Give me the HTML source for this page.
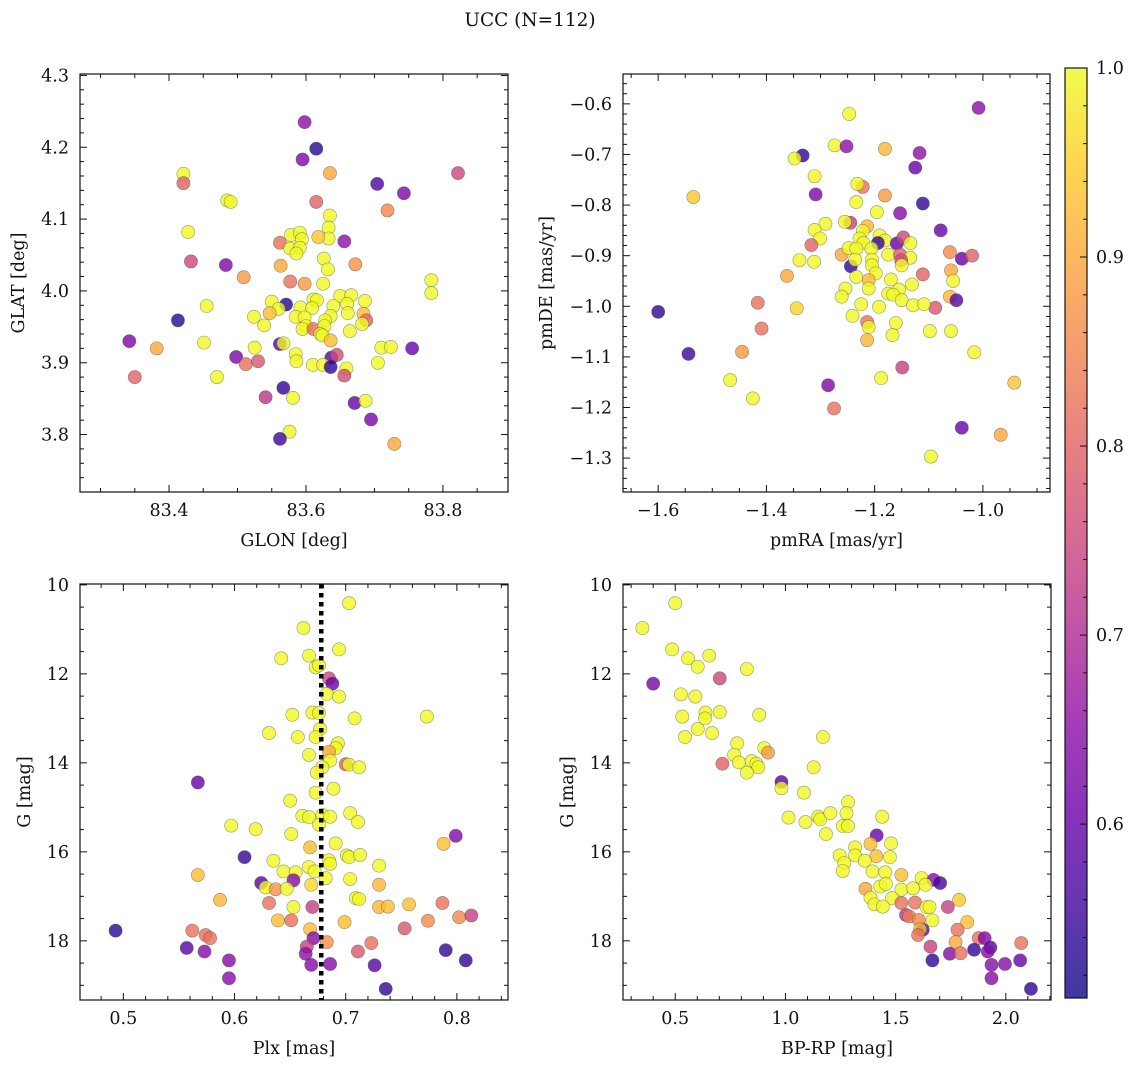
<!DOCTYPE html>
<html><head><meta charset="utf-8"><style>
html,body{margin:0;padding:0;background:#fff;}
svg text{font-family:"DejaVu Serif","Liberation Serif",serif;fill:#111;}
</style></head><body>
<svg id="fig" width="1136" height="1067" viewBox="0 0 1136 1067" xmlns="http://www.w3.org/2000/svg">
<text x="530" y="26" font-size="18.5" text-anchor="middle">UCC (N=112)</text>
</svg>
<script>
// ---------- data ----------
const glon=[83.598,83.615,83.595,83.635,83.421,83.421,83.704,83.743,83.822,83.485,83.490,83.615,83.719,83.635,83.428,83.633,83.633,83.618,83.656,83.562,83.578,83.591,83.594,83.577,83.591,83.586,83.626,83.632,83.432,83.483,83.563,83.672,83.509,83.577,83.598,83.625,83.783,83.783,83.650,83.666,83.686,83.611,83.616,83.550,83.571,83.455,83.560,83.547,83.592,83.609,83.640,83.660,83.661,83.524,83.585,83.598,83.636,83.628,83.684,83.688,83.682,83.413,83.539,83.600,83.595,83.611,83.627,83.664,83.621,83.624,83.636,83.342,83.451,83.562,83.567,83.382,83.525,83.710,83.724,83.755,83.585,83.498,83.637,83.645,83.586,83.512,83.530,83.610,83.625,83.636,83.705,83.659,83.656,83.350,83.470,83.567,83.541,83.581,83.671,83.687,83.695,83.576,83.562,83.729];
const glat=[4.235,4.198,4.183,4.164,4.163,4.150,4.149,4.136,4.164,4.126,4.124,4.124,4.112,4.105,4.082,4.088,4.073,4.075,4.069,4.067,4.078,4.081,4.072,4.059,4.060,4.052,4.045,4.030,4.041,4.036,4.035,4.037,4.019,4.013,4.010,4.010,4.015,3.997,3.993,3.994,3.986,3.988,3.987,3.985,3.981,3.979,3.975,3.969,3.977,3.976,3.979,3.982,3.969,3.964,3.964,3.963,3.965,3.959,3.968,3.959,3.954,3.959,3.952,3.951,3.947,3.947,3.951,3.944,3.940,3.938,3.931,3.930,3.928,3.926,3.927,3.920,3.921,3.921,3.922,3.920,3.912,3.908,3.907,3.911,3.902,3.898,3.902,3.897,3.897,3.894,3.900,3.892,3.882,3.880,3.880,3.865,3.852,3.851,3.844,3.847,3.821,3.804,3.794,3.787];
const probTL=[.65,.53,.63,.9,1,.8,.57,.63,.75,1,1,.8,.85,1,1,1,1,.94,.65,.82,1,1,1,1,1,1,1,1,.75,.63,.9,.87,.88,.82,.88,1,1,1,1,1,1,1,1,1,.53,1,1,.93,1,1,1,1,1,1,1,1,1,1,.93,.8,1,.53,1,1,1,.82,1,1,1,1,.93,.63,1,.57,1,.9,1,1,1,.6,1,.63,.58,.76,1,.82,.78,1,1,.54,1,1,.76,.8,1,.54,.72,1,.6,1,.62,1,.55,.9];

const pmra=[-1.247,-1.008,-1.274,-1.252,-1.333,-1.348,-1.181,-1.117,-1.125,-1.311,-1.535,-1.309,-1.222,-1.232,-1.181,-1.111,-1.234,-1.196,-1.153,-1.078,-1.245,-1.255,-1.291,-1.311,-1.301,-1.214,-1.222,-1.317,-1.228,-1.221,-1.191,-1.181,-1.194,-1.159,-1.147,-1.134,-1.261,-1.248,-1.234,-1.206,-1.175,-1.153,-1.134,-1.061,-1.039,-1.020,-1.339,-1.312,-1.244,-1.236,-1.205,-1.205,-1.151,-1.150,-1.198,-1.111,-1.362,-1.234,-1.059,-1.211,-1.170,-1.055,-1.131,-1.254,-1.211,-1.155,-1.175,-1.166,-1.261,-1.061,-1.049,-1.150,-1.416,-1.088,-1.344,-1.225,-1.192,-1.129,-1.109,-1.600,-1.241,-1.214,-1.211,-1.161,-1.409,-1.098,-1.059,-1.167,-1.214,-1.544,-1.445,-1.016,-1.149,-1.467,-1.188,-1.286,-0.942,-1.425,-1.275,-1.039,-0.967,-1.096];
const pmde=[-0.620,-0.608,-0.682,-0.684,-0.702,-0.708,-0.689,-0.697,-0.726,-0.743,-0.784,-0.779,-0.764,-0.758,-0.781,-0.797,-0.794,-0.814,-0.816,-0.850,-0.835,-0.833,-0.837,-0.849,-0.866,-0.842,-0.851,-0.879,-0.866,-0.875,-0.860,-0.870,-0.875,-0.876,-0.864,-0.875,-0.898,-0.885,-0.886,-0.886,-0.898,-0.898,-0.904,-0.893,-0.906,-0.900,-0.909,-0.912,-0.921,-0.908,-0.908,-0.919,-0.909,-0.919,-0.935,-0.937,-0.940,-0.942,-0.929,-0.948,-0.947,-0.950,-0.957,-0.965,-0.965,-0.967,-0.975,-0.977,-0.981,-0.981,-0.988,-0.988,-0.993,-1.003,-1.004,-0.996,-1.001,-0.998,-0.996,-1.011,-1.019,-1.031,-1.041,-1.033,-1.044,-1.049,-1.049,-1.057,-1.067,-1.094,-1.090,-1.091,-1.121,-1.146,-1.142,-1.156,-1.151,-1.182,-1.202,-1.240,-1.254,-1.297];
const probTR=[1,.65,1,.65,.54,1,.92,.65,.6,1,.94,.63,.82,1,.88,.54,1,1,.64,.6,.74,1,1,1,1,.92,1,.8,1,1,1,1,.55,.6,.75,1,.9,1,1,1,1,.8,1,.86,.6,.8,1,1,.54,1,1,1,.76,1,1,.8,.9,1,.9,.92,1,1,1,1,1,1,1,1,1,.92,.58,1,.82,.78,.96,1,1,1,1,.54,1,.82,1,1,.82,1,1,1,.92,.55,.88,1,.74,1,1,.63,.94,1,.82,.6,.9,1];

const plx=[0.703,0.662,0.694,0.667,0.642,0.673,0.676,0.685,0.688,0.683,0.694,0.652,0.670,0.676,0.708,0.773,0.677,0.631,0.657,0.673,0.693,0.691,0.685,0.667,0.686,0.700,0.703,0.712,0.679,0.674,0.567,0.689,0.673,0.650,0.661,0.667,0.679,0.686,0.704,0.711,0.676,0.597,0.619,0.651,0.799,0.788,0.691,0.668,0.609,0.701,0.703,0.713,0.685,0.686,0.635,0.667,0.730,0.644,0.655,0.672,0.567,0.682,0.704,0.653,0.624,0.628,0.637,0.647,0.669,0.730,0.587,0.709,0.712,0.631,0.757,0.787,0.653,0.670,0.730,0.738,0.639,0.651,0.699,0.774,0.802,0.813,0.753,0.668,0.493,0.562,0.574,0.578,0.671,0.683,0.723,0.665,0.664,0.557,0.573,0.790,0.711,0.595,0.808,0.669,0.686,0.726,0.595,0.736];
const gBL=[10.41,10.97,11.45,11.59,11.65,11.85,11.81,12.10,12.22,12.45,12.51,12.92,12.87,12.88,13.00,12.96,13.24,13.33,13.42,13.42,13.56,13.67,13.75,13.82,13.95,14.03,14.04,14.10,14.10,14.22,14.44,14.58,14.67,14.85,15.19,15.22,15.17,15.21,15.13,15.33,15.39,15.41,15.49,15.60,15.64,15.82,15.81,15.90,16.12,16.08,16.12,16.07,16.19,16.27,16.20,16.34,16.31,16.44,16.46,16.44,16.52,16.59,16.61,16.64,16.70,16.80,16.84,16.83,16.74,16.74,17.08,17.04,17.06,17.15,17.18,17.15,17.24,17.24,17.24,17.23,17.54,17.54,17.58,17.55,17.47,17.43,17.72,17.74,17.77,17.77,17.87,17.94,17.94,18.03,18.05,18.13,18.29,18.16,18.24,18.21,18.24,18.44,18.44,18.54,18.52,18.55,18.84,19.08];
const probBL=[1,1,1,1,1,1,1,.75,.6,1,1,1,1,1,1,1,1,1,1,1,1,1,.9,1,1,.8,1,1,1,1,.6,1,1,1,1,1,1,1,1,1,1,1,1,1,.63,.93,1,.93,.54,1,1,1,1,1,1,1,1,1,1,1,.93,1,1,.64,.58,1,.87,1,.96,.92,.92,1,1,.82,.93,.82,1,.74,.92,.93,.93,.82,.93,.86,.86,.74,.78,.93,.53,.82,.82,.82,.64,.87,.82,.74,.65,.58,.64,.54,.78,.64,.54,.64,.64,.58,.64,.54];
const plxMean=[0.678];

const bprp=[0.351,0.500,0.486,0.558,0.654,0.602,0.825,0.702,0.400,0.526,0.591,0.532,0.637,0.635,0.702,0.881,0.602,0.544,0.667,1.170,0.781,0.767,0.904,0.921,0.789,0.847,0.868,0.877,0.714,0.825,1.128,0.982,0.982,1.084,1.284,1.277,1.439,1.149,1.158,1.204,1.014,1.091,1.260,1.284,1.184,1.414,1.386,1.479,1.316,1.246,1.316,1.412,1.474,1.360,1.267,1.395,1.260,1.453,1.526,1.618,1.672,1.702,1.635,1.430,1.456,1.363,1.526,1.579,1.386,1.484,1.788,1.404,1.442,1.526,1.588,1.640,1.654,1.737,1.547,1.561,1.605,1.667,1.825,1.623,1.611,1.602,1.781,1.772,1.877,1.904,1.930,1.918,1.658,1.856,1.746,1.795,2.070,1.667,1.935,1.996,2.065,1.935,2.114];
const gBR=[10.97,10.41,11.45,11.65,11.59,11.84,11.89,12.10,12.22,12.46,12.51,12.96,12.87,13.00,12.86,12.92,13.24,13.42,13.33,13.42,13.56,13.82,13.67,13.77,13.99,13.96,14.02,14.10,14.02,14.22,14.10,14.43,14.57,14.67,14.88,15.13,15.21,15.21,15.27,15.13,15.23,15.33,15.42,15.42,15.60,15.63,15.82,15.81,15.90,16.08,16.08,16.10,16.12,16.20,16.25,16.44,16.43,16.46,16.52,16.59,16.63,16.70,16.74,16.78,16.72,16.83,16.85,16.82,17.03,17.04,17.08,17.18,17.23,17.15,17.14,17.24,17.24,17.24,17.42,17.45,17.53,17.54,17.58,17.75,17.74,17.87,17.75,18.03,17.94,17.94,18.15,18.24,18.13,18.20,18.29,18.28,18.05,18.44,18.54,18.52,18.44,18.84,19.08];
const probBR=[1,1,1,1,1,1,1,.75,.62,1,1,1,1,1,1,1,1,1,1,1,1,1,1,.88,1,1,1,1,.8,1,1,.58,1,1,1,1,1,1,1,1,1,1,1,1,1,.6,.93,1,1,1,1,.93,1,1,1,1,1,1,.93,1,.64,.56,1,1,1,.9,1,1,1,1,.94,1,1,.82,.82,1,1,.74,.72,.84,.86,1,.93,.58,.93,.82,.82,.9,.82,.64,.58,.64,.74,.54,.64,.82,.82,.54,.64,.64,.6,.64,.54];

const tlXTicks=["83.4","83.6","83.8"], tlYTicks=["3.8","3.9","4.0","4.1","4.2","4.3"];
const trXTicks=["−1.6","−1.4","−1.2","−1.0"], trYTicks=["−1.3","−1.2","−1.1","−1.0","−0.9","−0.8","−0.7","−0.6"];
const blXTicks=["0.5","0.6","0.7","0.8"], blYTicks=["10","12","14","16","18"];
const brXTicks=["0.5","1.0","1.5","2.0"], brYTicks=["10","12","14","16","18"];
const cbTicks=["0.6","0.7","0.8","0.9","1.0"];
const cbMin=0.508, cbMax=1.0;

// ---------- helpers ----------
const NS="http://www.w3.org/2000/svg";
const svg=document.getElementById('fig');
const FS=17.5;
function mk(tag,attrs,parent){const e=document.createElementNS(NS,tag);for(const k in attrs)e.setAttribute(k,attrs[k]);(parent||svg).appendChild(e);return e;}
const plasma=[[13,8,135],[65,4,157],[106,0,168],[143,13,164],[177,42,144],[204,71,120],[225,100,98],[242,132,75],[252,166,54],[252,206,37],[240,249,33]];
function cmap(v){let t=(v-cbMin)/(cbMax-cbMin);t=Math.max(0,Math.min(1,t))*10;const i=Math.min(9,Math.floor(t)),f=t-i;const a=plasma[i],b=plasma[i+1];return `rgb(${Math.round(a[0]+(b[0]-a[0])*f)},${Math.round(a[1]+(b[1]-a[1])*f)},${Math.round(a[2]+(b[2]-a[2])*f)})`;}
function lin(d0,d1,p0,p1){return v=>p0+(v-d0)/(d1-d0)*(p1-p0);}

function panel(o){
  const g=mk('g',{});
  
  
  const sx=lin(o.xr[0],o.xr[1],o.x0,o.x1), sy=lin(o.yr[0],o.yr[1],o.y1,o.y0);
  const pts=mk('g',{},g);
  
  
  const n=Math.min(o.xs.length,o.ys.length,o.ps.length);
  for(let i=0;i<n;i++){
    const c=mk('circle',{cx:sx(o.xs[i]),cy:sy(o.ys[i]),r:6.6,fill:cmap(o.ps[i]),'fill-opacity':0.8,stroke:'rgba(70,70,70,0.55)','stroke-width':0.6},pts);
    
    
  }
  if(o.extra)o.extra(g,sx,sy);
  const tk=mk('g',{stroke:'#111','stroke-width':1},g);
  
  
  const eps=1e-9;
  for(let v=Math.ceil(o.xr[0]/o.xmin-eps)*o.xmin; v<=o.xr[1]+eps; v+=o.xmin){
    const isMaj=Math.abs(v/o.xmaj-Math.round(v/o.xmaj))<1e-6; const L=isMaj?7:4; const x=sx(v);
    mk('line',{x1:x,x2:x,y1:o.y1,y2:o.y1-L},tk); mk('line',{x1:x,x2:x,y1:o.y0,y2:o.y0+L},tk);
  }
  for(let v=Math.ceil(Math.min(...o.yr)/o.ymin-eps)*o.ymin; v<=Math.max(...o.yr)+eps; v+=o.ymin){
    const isMaj=Math.abs(v/o.ymaj-Math.round(v/o.ymaj))<1e-6; const L=isMaj?7:4; const y=sy(v);
    mk('line',{x1:o.x0,x2:o.x0+L,y1:y,y2:y},tk); mk('line',{x1:o.x1,x2:o.x1-L,y1:y,y2:y},tk);
  }
  const fr=mk('rect',{x:o.x0,y:o.y0,width:o.x1-o.x0,height:o.y1-o.y0,fill:'none',stroke:'#111','stroke-width':1.2},g);
  
  
  o.xl.forEach(s=>{const v=parseFloat(s.replace('−','-'));const t=mk('text',{x:sx(v),y:o.y1+24,'font-size':FS,'text-anchor':'middle'},g);t.textContent=s;
    
    });
  o.yl.forEach(s=>{const v=parseFloat(s.replace('−','-'));const t=mk('text',{x:o.x0-11,y:sy(v)+6,'font-size':FS,'text-anchor':'end'},g);t.textContent=s;
    
    });
  const xt=mk('text',{x:(o.x0+o.x1)/2,y:o.y1+54,'font-size':FS,'text-anchor':'middle'},g);xt.textContent=o.xtitle;
  
  
  const yc=(o.y0+o.y1)/2;
  const yt=mk('text',{x:o.ytx,y:yc,'font-size':FS,'text-anchor':'middle',transform:`rotate(-90 ${o.ytx} ${yc})`},g);yt.textContent=o.ytitle;
  
  
}

panel({name:'glon-glat-panel',x0:80,x1:508,y0:74,y1:492,xr:[83.27,83.895],yr:[3.72,4.302],xs:glon,ys:glat,ps:probTL,xmaj:0.2,xmin:0.05,ymaj:0.1,ymin:0.02,xl:tlXTicks,yl:tlYTicks,xtitle:'GLON [deg]',ytitle:'GLAT [deg]',ytx:24});
panel({name:'proper-motion-panel',x0:623,x1:1050,y0:74,y1:492,xr:[-1.665,-0.876],yr:[-1.367,-0.541],xs:pmra,ys:pmde,ps:probTR,xmaj:0.2,xmin:0.05,ymaj:0.1,ymin:0.02,xl:trXTicks,yl:trYTicks,xtitle:'pmRA [mas/yr]',ytitle:'pmDE [mas/yr]',ytx:552});
panel({name:'parallax-mag-panel',x0:80,x1:508,y0:584,y1:1000,xr:[0.461,0.846],yr:[19.33,9.98],xs:plx,ys:gBL,ps:probBL,xmaj:0.1,xmin:0.02,ymaj:2,ymin:0.5,xl:blXTicks,yl:blYTicks,xtitle:'Plx [mas]',ytitle:'G [mag]',ytx:30,
  extra:(g,sx,sy)=>{plxMean.forEach(m=>{const l=mk('line',{x1:sx(m),x2:sx(m),y1:584,y2:1000,stroke:'#000','stroke-width':4.5,'stroke-dasharray':'4.5,4.5'},g);
    
    });}});
panel({name:'cmd-panel',x0:623,x1:1051,y0:584,y1:1000,xr:[0.263,2.205],yr:[19.33,9.98],xs:bprp,ys:gBR,ps:probBR,xmaj:0.5,xmin:0.1,ymaj:2,ymin:0.5,xl:brXTicks,yl:brYTicks,xtitle:'BP-RP [mag]',ytitle:'G [mag]',ytx:573});

// colorbar
const cb=mk('g',{});


const defs=mk('defs',{},cb);
const grad=mk('linearGradient',{id:'pl',x1:0,y1:1,x2:0,y2:0},defs);
for(let i=0;i<=20;i++){const v=cbMin+(cbMax-cbMin)*i/20;mk('stop',{offset:(i/20),'stop-color':cmap(v),'stop-opacity':0.8},grad);}
const cbx0=1065,cbx1=1087,cby0=68,cby1=998;
mk('rect',{x:cbx0,y:cby0,width:cbx1-cbx0,height:cby1-cby0,fill:'url(#pl)',stroke:'#111','stroke-width':1.2},cb);
const cy=lin(cbMin,cbMax,cby1,cby0);
for(let v=0.52;v<=1.0001;v+=0.02){const maj=Math.abs(v*10-Math.round(v*10))<1e-6;const y=cy(v);mk('line',{x1:cbx1,x2:cbx1-(maj?7:4),y1:y,y2:y,stroke:'#111','stroke-width':1},cb);}
cbTicks.forEach(s=>{const t=mk('text',{x:cbx1+9,y:cy(parseFloat(s))+6,'font-size':FS},cb);t.textContent=s;
  
  });
</script>
</body></html>
